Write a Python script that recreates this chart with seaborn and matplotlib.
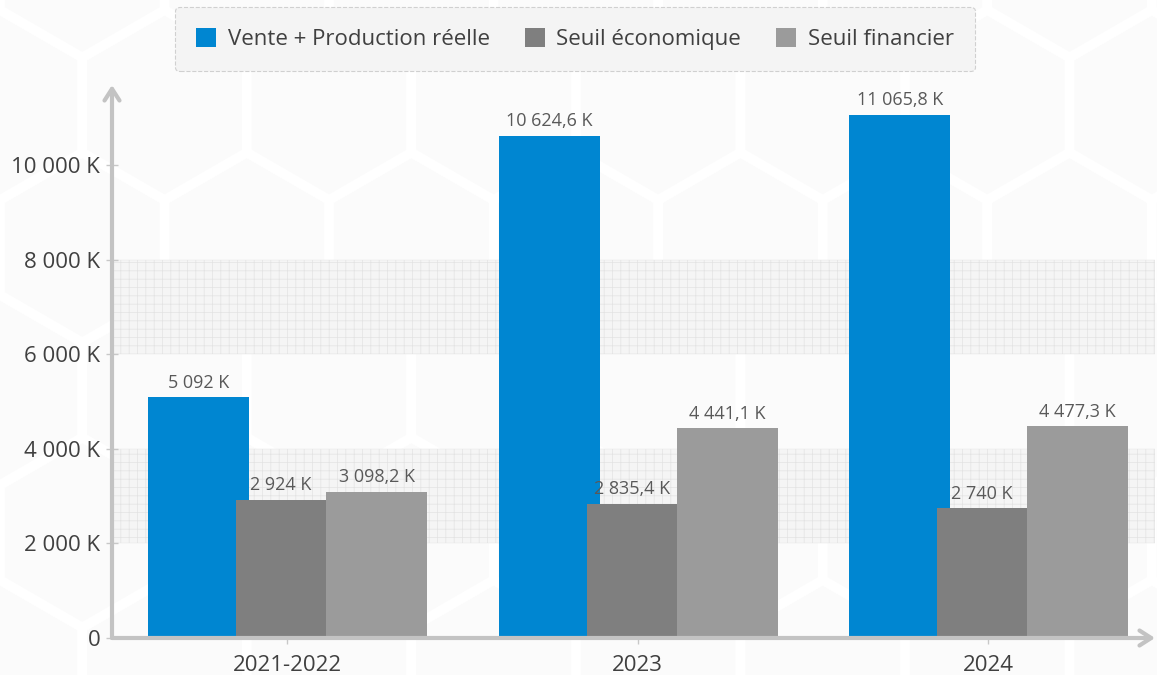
import numpy as np
import pandas as pd
import matplotlib.pyplot as plt
import seaborn as sns
from matplotlib.patches import Patch, RegularPolygon

# données (en K)
periodes = ['2021-2022', '2023', '2024']
series = ['Vente + Production réelle', 'Seuil économique', 'Seuil financier']
vente_prod = [5092, 10624.6, 11065.8]
seuil_eco = [2924, 2835.4, 2740]
seuil_fin = [3098.2, 4441.1, 4477.3]
couleurs = ['#0086d1', '#7f7f7f', '#9b9b9b']
y_ticks = [0, 2000, 4000, 6000, 8000, 10000]

sns.set_theme(style='white')
plt.rcParams['font.family'] = ['Open Sans', 'DejaVu Sans']
plt.rcParams['hatch.linewidth'] = 0.5

df = pd.DataFrame({
    'periode': periodes * 3,
    'serie': [series[0]] * 3 + [series[1]] * 3 + [series[2]] * 3,
    'valeur': vente_prod + seuil_eco + seuil_fin,
})


def fmt_k(v):
    if v == 0:
        return '0'
    if float(v).is_integer():
        s = f'{int(v):,}'.replace(',', ' ')
    else:
        s = f'{v:,.1f}'.replace(',', ' ').replace('.', ',')
    return s + ' K'


fig = plt.figure(figsize=(11.57, 6.75), dpi=100)
fig.patch.set_facecolor('white')

# fond hexagonal discret
R = 95
for row in range(-1, 6):
    for col in range(-1, 8):
        cx = col * np.sqrt(3) * R + (row % 2) * np.sqrt(3) * R / 2
        cy = row * 1.5 * R
        hexa = RegularPolygon((cx, cy), 6, radius=R, orientation=0,
                              facecolor='#fbfbfb', edgecolor='white', lw=7,
                              transform=None, zorder=-10)
        fig.add_artist(hexa)

ax = fig.add_axes([112 / 1157, 37 / 675, 1043 / 1157, 553 / 675])
ax.set_facecolor('none')

# bandes hachurées
for y0, y1 in [(2000, 4000), (6000, 8000)]:
    ax.axhspan(y0, y1, facecolor='#f5f5f5', edgecolor='#e3e3e3', hatch='++', lw=0.3, zorder=0)

sns.barplot(data=df, x='periode', y='valeur', hue='serie', hue_order=series,
            palette=couleurs, saturation=1, legend=False, ax=ax, zorder=2)

# largeurs / décalages des barres
gauche = [-0.397, -0.146, 0.111]
largeur = [0.289, 0.257, 0.289]
for i, c in enumerate(ax.containers):
    for j, p in enumerate(c):
        p.set_x(j + gauche[i])
        p.set_width(largeur[i])
        p.set_edgecolor('none')

for c in ax.containers:
    ax.bar_label(c, labels=[fmt_k(v) for v in c.datavalues], padding=4,
                 fontsize=13, color='#595959')

ax.set_xlim(-0.5, 2.476)
ax.set_ylim(0, 11700)
ax.set_yticks(y_ticks)
ax.set_yticklabels([fmt_k(v) for v in y_ticks])
ax.set_xlabel('')
ax.set_ylabel('')
ax.tick_params(axis='both', direction='inout', length=9, width=1, color='#c8c8c8',
               labelsize=16, labelcolor='#404040', left=True, bottom=True, pad=4)
ax.tick_params(axis='x', pad=8)
for s in ax.spines.values():
    s.set_visible(False)

# axes fléchés
flech = dict(arrowstyle='->,head_length=0.7,head_width=0.45', color='#c3c3c3', lw=3,
             shrinkA=0, shrinkB=0)
ax.annotate('', xy=(0, 1), xytext=(0, 0), xycoords='axes fraction', arrowprops=flech,
            annotation_clip=False)
ax.annotate('', xy=(1, 0), xytext=(0, 0), xycoords='axes fraction', arrowprops=flech,
            annotation_clip=False)

handles = [Patch(facecolor=c, edgecolor='none') for c in couleurs]
leg = fig.legend(handles, series, loc='center', bbox_to_anchor=(575 / 1157, 1 - 39 / 675),
                 ncol=3, fontsize=16, frameon=True, handlelength=0.9, handleheight=0.9,
                 handletextpad=0.5, columnspacing=1.6, borderpad=0.95, fancybox=True,
                 labelcolor='#404040')
fr = leg.get_frame()
fr.set_facecolor('#f4f4f4')
fr.set_edgecolor('#d0d0d0')
fr.set_linestyle('--')
fr.set_linewidth(0.8)
fr.set_alpha(1)

fig.savefig('out.png', dpi=100)
